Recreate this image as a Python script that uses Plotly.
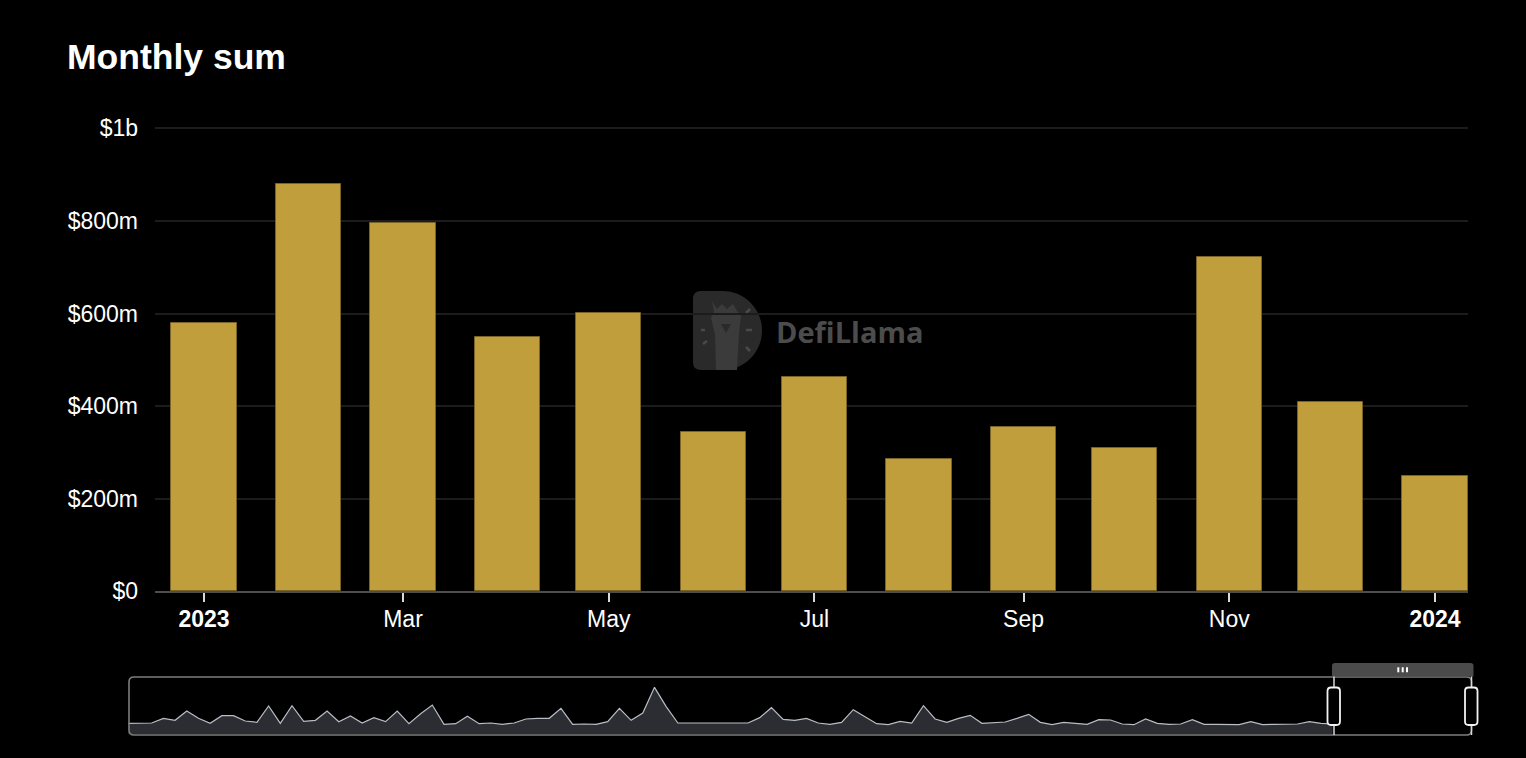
import plotly.graph_objects as go

W, H = 1526, 758

# monthly sums (USD), one bar per month
months = ['2023-01-01', '2023-02-01', '2023-03-01', '2023-04-01', '2023-05-01',
          '2023-06-01', '2023-07-01', '2023-08-01', '2023-09-01', '2023-10-01',
          '2023-11-01', '2023-12-01', '2024-01-01']
monthly_sum = [580e6, 880e6, 795e6, 549e6, 601e6, 345e6, 462e6,
               285e6, 354e6, 309e6, 721e6, 408e6, 248e6]

y_ticks = [0, 2e8, 4e8, 6e8, 8e8, 1e9]
y_tick_text = ['$0', '$200m', '$400m', '$600m', '$800m', '$1b']
x_ticks = ['2023-01-01', '2023-03-01', '2023-05-01', '2023-07-01',
           '2023-09-01', '2023-11-01', '2024-01-01']
x_tick_text = ['<b>2023</b>', 'Mar', 'May', 'Jul', 'Sep', 'Nov', '<b>2024</b>']

# overview series drawn in the zoom slider (relative heights)
overview = [32, 32, 33, 47, 41, 69, 47, 32, 55, 55, 39, 35, 84, 32, 85, 38, 41, 69, 37, 54,
            33, 49, 37, 69, 31, 61, 87, 29, 31, 53, 31, 33, 29, 33, 45, 47, 47, 77, 29,
            30, 29, 37, 77, 41, 63, 140, 82, 33, 33, 33, 33, 33, 35, 33, 49, 79, 44, 41, 47,
            33, 29, 35, 73, 51, 31, 28, 38, 33, 85, 45, 35, 47, 56, 32, 35, 36, 47, 59,
            35, 28, 35, 32, 29, 43, 42, 30, 28, 45, 32, 29, 30, 43, 29, 29, 29, 28, 37, 28,
            29, 29, 30, 37, 32, 30]

FONT = 'Liberation Sans, Arial, Helvetica, sans-serif'
BAR_WIDTH = 19.3 * 24 * 3600 * 1000  # ms

# pixel rows of the value axis: $0 and $1b
Y0_PX, Y1B_PX, TOP_PX = 591.3, 128.3, 112
Y_TOP = 1e9 * (Y0_PX - TOP_PX) / (Y0_PX - Y1B_PX)


# pixel -> paper helpers
def px(x):
    return x / W


def py(y):
    return 1 - y / H


def rrect(x0, y0, x1, y1, r, top_only=False):
    rb = 0 if top_only else r
    pts = [
        ('M', [(x0 + r, y0)]),
        ('L', [(x1 - r, y0)]),
        ('Q', [(x1, y0), (x1, y0 + r)]),
        ('L', [(x1, y1 - rb)]),
        ('Q', [(x1, y1), (x1 - rb, y1)]),
        ('L', [(x0 + rb, y1)]),
        ('Q', [(x0, y1), (x0, y1 - rb)]),
        ('L', [(x0, y0 + r)]),
        ('Q', [(x0, y0), (x0 + r, y0)]),
    ]
    s = ''
    for cmd, p in pts:
        s += cmd + ' ' + ' '.join('%.5f,%.5f' % (px(a), py(b)) for a, b in p) + ' '
    return s + 'Z'


def poly(points):
    return 'M ' + ' L '.join('%.5f,%.5f' % (px(a), py(b)) for a, b in points) + ' Z'


def d_logo(x0, y0, x1, y1):
    # "D" shaped badge: straight left side, half circle on the right
    r = (y1 - y0) / 2
    cx = x1 - r
    cy = y0 + r
    k = 0.5523 * r
    c = 8
    p = [
        'M %.5f,%.5f' % (px(x0 + c), py(y0)),
        'L %.5f,%.5f' % (px(cx), py(y0)),
        'C %.5f,%.5f %.5f,%.5f %.5f,%.5f' % (px(cx + k), py(y0), px(x1), py(cy - k), px(x1), py(cy)),
        'C %.5f,%.5f %.5f,%.5f %.5f,%.5f' % (px(x1), py(cy + k), px(cx + k), py(y1), px(cx), py(y1)),
        'L %.5f,%.5f' % (px(x0 + c), py(y1)),
        'Q %.5f,%.5f %.5f,%.5f' % (px(x0), py(y1), px(x0), py(y1 - c)),
        'L %.5f,%.5f' % (px(x0), py(y0 + c)),
        'Q %.5f,%.5f %.5f,%.5f' % (px(x0), py(y0), px(x0 + c), py(y0)),
        'Z',
    ]
    return ' '.join(p)


fig = go.Figure()

fig.add_trace(go.Bar(
    x=months,
    y=monthly_sum,
    width=BAR_WIDTH,
    marker=dict(color='#c19e3c', line=dict(color='#7a6326', width=1)),
    xaxis='x', yaxis='y',
    hoverinfo='skip',
))

fig.add_trace(go.Scatter(
    x=list(range(len(overview))),
    y=overview,
    mode='lines',
    fill='tozeroy',
    fillcolor='#2c2d32',
    line=dict(color='#b9bdc6', width=1.2),
    xaxis='x2', yaxis='y2',
    hoverinfo='skip',
))

shapes = []

# watermark
shapes.append(dict(type='path', xref='paper', yref='paper', layer='below',
                   path=d_logo(693, 291, 762, 370),
                   fillcolor='#2a2a2a', line=dict(width=0)))
shapes.append(dict(type='path', xref='paper', yref='paper', layer='below',
                   path=poly([(712, 301), (717, 309), (722, 304), (727, 309), (733, 304),
                              (737, 311), (741, 316), (739, 333), (737, 370), (716, 370),
                              (715, 334), (711, 318), (714, 312)]),
                   fillcolor='#3b3b3b', line=dict(width=0)))
shapes.append(dict(type='path', xref='paper', yref='paper', layer='below',
                   path=poly([(721, 324), (731, 324), (726, 333)]),
                   fillcolor='#2a2a2a', line=dict(width=0)))
for a, b in [((701, 330), (705, 330)), ((746, 330), (752, 330)), ((746, 313), (750, 309)),
             ((746, 347), (750, 351)), ((703, 344), (707, 341))]:
    shapes.append(dict(type='line', xref='paper', yref='paper', layer='below',
                       x0=px(a[0]), y0=py(a[1]), x1=px(b[0]), y1=py(b[1]),
                       line=dict(color='#4a4a4a', width=2.5)))

# zoom slider frame
shapes.append(dict(type='path', xref='paper', yref='paper', layer='above',
                   path=rrect(129, 677, 1471.5, 735, 5),
                   line=dict(color='#7d7d7d', width=1.6)))
# window top bar with grip
shapes.append(dict(type='path', xref='paper', yref='paper', layer='above',
                   path=rrect(1332, 663, 1473.5, 676.5, 3, top_only=True),
                   fillcolor='#4b4b4b', line=dict(width=0)))
for gx in [1397.3, 1401.7, 1406]:
    shapes.append(dict(type='rect', xref='paper', yref='paper', layer='above',
                       x0=px(gx), x1=px(gx + 2), y0=py(672.3), y1=py(667.3),
                       fillcolor='#ffffff', line=dict(width=0)))
# window edges
for wx in [1334, 1471.5]:
    shapes.append(dict(type='line', xref='paper', yref='paper', layer='above',
                       x0=px(wx), x1=px(wx), y0=py(676.5), y1=py(735),
                       line=dict(color='#d8d8d8', width=1.5)))
# handles
for hx in [1327.5, 1465]:
    shapes.append(dict(type='path', xref='paper', yref='paper', layer='above',
                       path=rrect(hx, 687.5, hx + 12.5, 725, 3.5),
                       fillcolor='#000000', line=dict(color='#f2f2f2', width=1.8)))

annotations = [
    dict(text='<b>Monthly sum</b>', x=px(65), y=py(57), xref='paper', yref='paper',
         xanchor='left', yanchor='middle', showarrow=False,
         font=dict(size=35.5, color='#ffffff', family=FONT)),
    dict(text='<b>DefiLlama</b>', x=px(774), y=py(332), xref='paper', yref='paper',
         xanchor='left', yanchor='middle', showarrow=False,
         font=dict(size=29, color='#4c4c4c', family='Open Sans, sans-serif')),
]

fig.update_layout(
    template='none',
    width=W,
    height=H,
    autosize=False,
    margin=dict(l=0, r=0, t=0, b=0, pad=0, autoexpand=False),
    paper_bgcolor='#000000',
    plot_bgcolor='#000000',
    showlegend=False,
    bargap=0,
    font=dict(family=FONT, color='#ffffff'),
    xaxis=dict(
        type='date',
        domain=[px(155), px(1468)],
        range=['2022-12-17 11:16', '2024-01-10 18:47'],
        tickvals=x_ticks,
        ticktext=x_tick_text,
        ticks='outside',
        ticklen=9,
        tickwidth=2,
        tickcolor='#d9d9d9',
        showline=True,
        linecolor='#4d4d4d',
        linewidth=2,
        showgrid=False,
        zeroline=False,
        tickfont=dict(size=23, color='#ffffff', family=FONT),
        ticklabelstandoff=-3,
        automargin=False,
        anchor='y',
        fixedrange=True,
    ),
    yaxis=dict(
        domain=[py(Y0_PX), py(TOP_PX)],
        range=[0, Y_TOP],
        tickvals=y_ticks,
        ticktext=y_tick_text,
        ticks='',
        showgrid=True,
        gridcolor='#1c1c1c',
        gridwidth=1.5,
        zeroline=False,
        showline=False,
        tickfont=dict(size=23, color='#ffffff', family=FONT),
        ticklabelstandoff=16,
        automargin=False,
        anchor='x',
        fixedrange=True,
    ),
    xaxis2=dict(
        domain=[px(128.3), px(1332.7)],
        range=[0, len(overview) - 1],
        visible=False,
        anchor='y2',
        fixedrange=True,
    ),
    yaxis2=dict(
        domain=[py(734), py(677)],
        range=[0, 171],
        visible=False,
        anchor='x2',
        fixedrange=True,
    ),
    shapes=shapes,
    annotations=annotations,
)

# drop the default page margin so the figure fills the window
page_js = "document.body.style.margin='0';document.body.style.background='#000';"
fig.write_html("out.html", config={'displayModeBar': False}, post_script=page_js)
